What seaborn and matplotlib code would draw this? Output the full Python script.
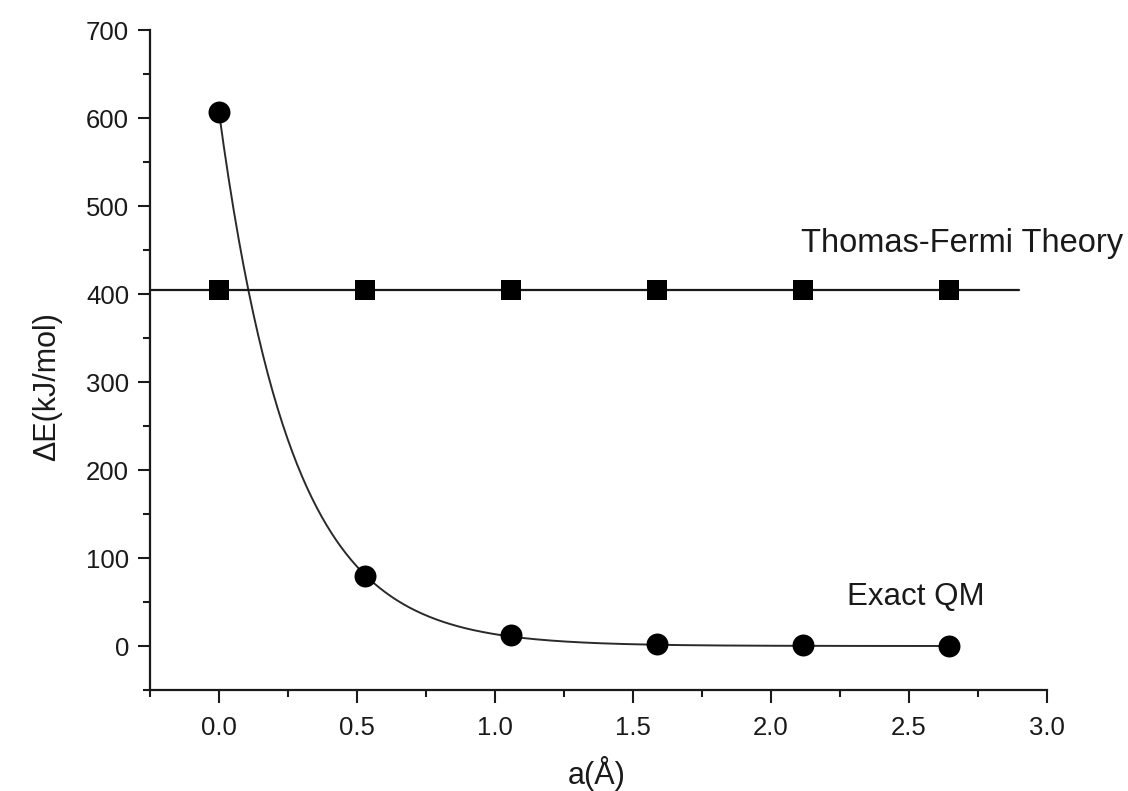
import numpy as np
import pandas as pd
import matplotlib.pyplot as plt
from matplotlib.ticker import MultipleLocator
import seaborn as sns

# Separation a in Angstrom (multiples of the Bohr radius)
a_vals = [0.0, 0.529, 1.058, 1.587, 2.116, 2.645]
# Exact QM energy difference, kJ/mol
qm_energy = [607, 80, 13, 2, 0.6, 0.3]
# Thomas-Fermi result, constant
tf_energy = [405, 405, 405, 405, 405, 405]
# extent of the Thomas-Fermi line
tf_line_x = [-0.25, 2.9]

sns.set_theme(style="ticks")
plt.rcParams['font.family'] = ['Liberation Sans', 'DejaVu Sans']

fig = plt.figure(figsize=(11.28, 7.91), dpi=100)
ax = fig.add_axes([0.133, 0.1277, 0.795, 0.834])

# smooth decaying curve through the exact points (exponential fit)
a_arr = np.array(a_vals)
e_arr = np.array(qm_energy)
slope, icpt = np.polyfit(a_arr, np.log(e_arr), 1, w=e_arr)
fit_x = np.linspace(a_arr[0], a_arr[-1], 300)
fit = pd.DataFrame({'a': fit_x, 'E': np.exp(icpt + slope * fit_x)})
sns.lineplot(data=fit, x='a', y='E', ax=ax, color='#2a2a2a', linewidth=1.4)

df = pd.DataFrame({'a': a_vals, 'qm': qm_energy, 'tf': tf_energy})
ax.plot(tf_line_x, [tf_energy[0]] * 2, color='#1a1a1a', linewidth=1.6)
sns.scatterplot(data=df, x='a', y='tf', ax=ax, marker='s', s=190, color='black',
                edgecolor='black', linewidth=0, zorder=5)
sns.scatterplot(data=df, x='a', y='qm', ax=ax, marker='o', s=250, color='black',
                edgecolor='black', linewidth=0, zorder=5)

ax.set_xlim(-0.25, 3.0)
ax.set_ylim(-50, 700)
ax.xaxis.set_major_locator(MultipleLocator(0.5))
ax.xaxis.set_minor_locator(MultipleLocator(0.25))
ax.yaxis.set_major_locator(MultipleLocator(100))
ax.yaxis.set_minor_locator(MultipleLocator(50))
ax.set_xticks([0, 0.5, 1.0, 1.5, 2.0, 2.5, 3.0])
ax.set_xticklabels(['0.0', '0.5', '1.0', '1.5', '2.0', '2.5', '3.0'])
ax.set_yticks([0, 100, 200, 300, 400, 500, 600, 700])

sns.despine(ax=ax)
for s in ['left', 'bottom']:
    ax.spines[s].set_linewidth(1.6)
    ax.spines[s].set_color('#1a1a1a')
ax.tick_params(which='major', direction='out', length=9, width=1.5,
               labelsize=18.5, colors='#1a1a1a', pad=6)
ax.tick_params(which='minor', direction='out', length=5, width=1.5, colors='#1a1a1a')
ax.tick_params(axis='x', pad=10)

ax.set_xlabel('a(Å)', fontsize=22, color='#1a1a1a')
ax.set_ylabel('ΔE(kJ/mol)', fontsize=22, color='#1a1a1a')
ax.xaxis.set_label_coords(0.498, -0.10)
ax.yaxis.set_label_coords(-0.098, 0.46)

ax.text(2.11, 458, 'Thomas-Fermi Theory', fontsize=23.5, color='#1a1a1a', va='center')
ax.text(2.275, 56, 'Exact QM', fontsize=22.5, color='#1a1a1a', va='center')

fig.savefig('out.png', dpi=100)
